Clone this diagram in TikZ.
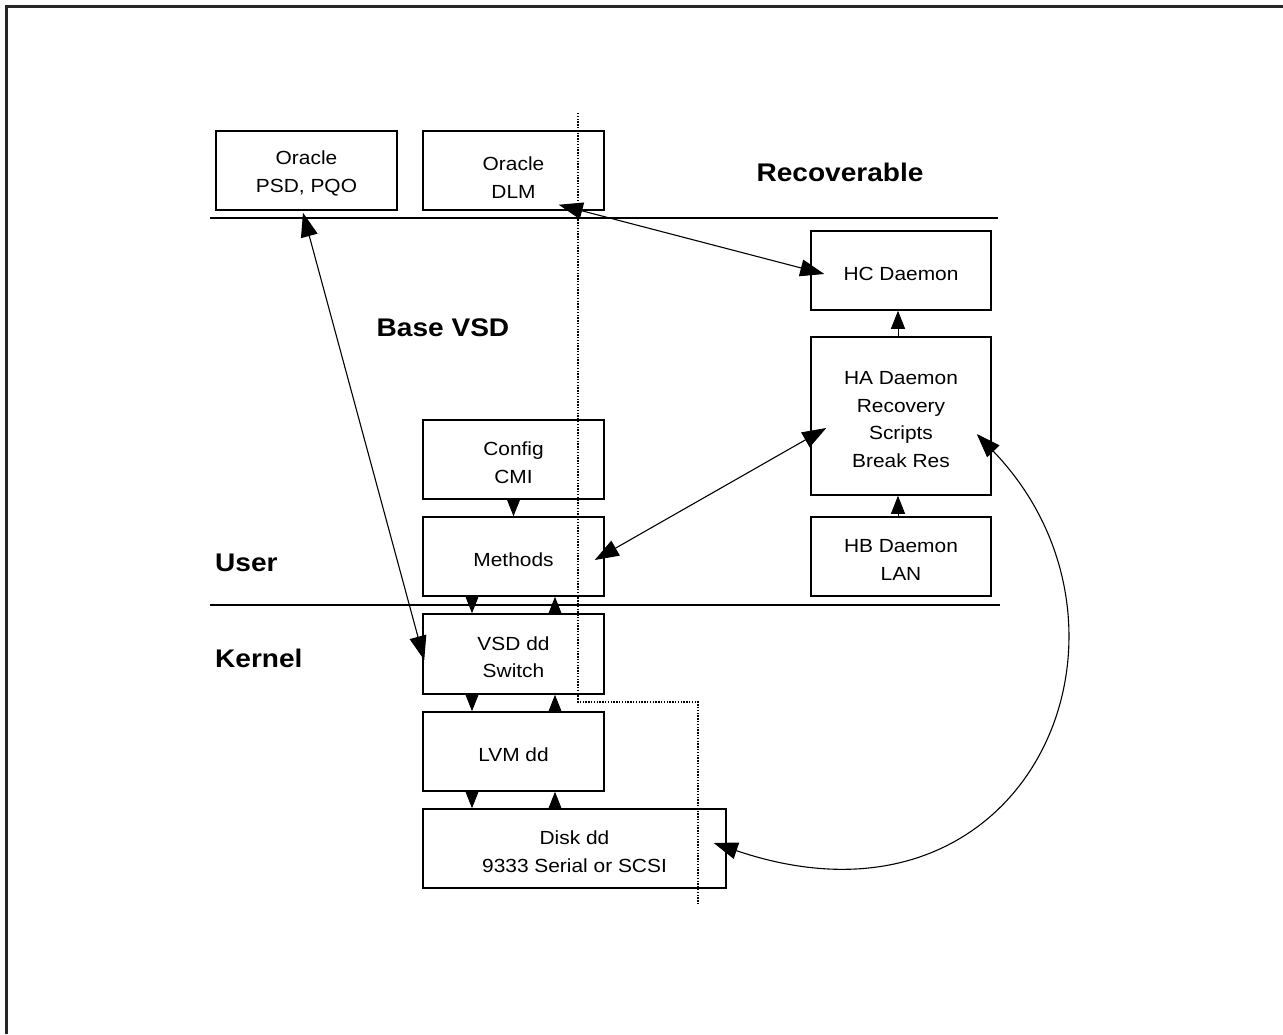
\documentclass[tikz,border=0pt]{standalone}
\usepackage{fontspec}
\setmainfont{Liberation Sans}[FakeStretch=1.1]
\usetikzlibrary{arrows.meta}
\newcommand{\boxfont}{\fontsize{19}{27.5}\selectfont}
\newcommand{\tagfont}{\fontsize{25.5}{30}\selectfont\bfseries}
\tikzset{
  unitbox/.style={draw, line width=1.5pt, inner sep=0pt, align=center,
    minimum width=181pt, minimum height=79pt, font=\boxfont},
  tagtext/.style={inner sep=0pt, font=\tagfont},
  divider/.style={line width=1.5pt},
  zone/.style={line width=1.4pt, dash pattern=on 1.4pt off 1.4pt},
  feed/.style={line width=1pt, -{Triangle[length=18pt,width=14pt]}},
  link/.style={line width=1.1pt, {Triangle[length=24pt,width=17pt]}-{Triangle[length=24pt,width=17pt]}},
}
\begin{document}
\begin{tikzpicture}[x=1pt, y=-1pt]
\useasboundingbox (0,0) rectangle (1283,1034);
% page frame (top and left edges)
\draw[line width=2.5pt, black!85] (6.5,1034) -- (6.5,6.5) -- (1283,6.5);

% layer dividers
\draw[divider] (210,218) -- (998,218);
\draw[divider] (210,605) -- (1000,605);

% boundary of the recoverable region
\draw[zone] (578,113) -- (578,702) -- (698,702) -- (698,905);

% components
\node[unitbox] (psd)  at (306.5,170.5) {\rule{0pt}{20pt}Oracle\\PSD, PQO};
\node[unitbox] (dlm)  at (513.5,170.5) {\rule{0pt}{28pt}Oracle\\DLM};
\node[unitbox, minimum width=180pt] (hc) at (901,270.5) {\rule{0pt}{20pt}HC Daemon};
\node[unitbox, minimum width=180pt, minimum height=158pt] (ha) at (901,416) {\rule{0pt}{20pt}HA Daemon\\Recovery\\Scripts\\Break Res};
\node[unitbox, minimum width=180pt] (hb) at (901,556.5) {\rule{0pt}{20pt}HB Daemon\\LAN};
\node[unitbox] (cfg)  at (513.5,459.5) {\rule{0pt}{20pt}Config\\CMI};
\node[unitbox] (meth) at (513.5,556.5) {\rule{0pt}{20pt}Methods};
\node[unitbox, minimum height=80pt] (vsd) at (513.5,654) {\rule{0pt}{20pt}VSD dd\\Switch};
\node[unitbox] (lvm)  at (513.5,751.5) {\rule{0pt}{20pt}LVM dd};
\node[unitbox, minimum width=303pt] (disk) at (574.5,848.5) {\rule{0pt}{20pt}Disk dd\\9333 Serial or SCSI};

% region labels
\node[tagtext] (rec)  at (840,172) {Recoverable};
\node[tagtext] (base) at (443,328) {Base VSD};
\node[tagtext, anchor=west] (user) at (215,563) {User};
\node[tagtext, anchor=west] (kern) at (215,658) {Kernel};

% vertical call chain
\draw[feed] (cfg.south) -- (meth.north);
\draw[feed] ([xshift=-41.5pt]meth.south) -- ([xshift=-41.5pt]vsd.north);
\draw[feed] ([xshift=41.5pt]vsd.north) -- ([xshift=41.5pt]meth.south);
\draw[feed] ([xshift=-41.5pt]vsd.south) -- ([xshift=-41.5pt]lvm.north);
\draw[feed] ([xshift=41.5pt]lvm.north) -- ([xshift=41.5pt]vsd.south);
\draw[feed] ([xshift=-41.5pt]lvm.south) -- ([xshift=-41.5pt]lvm.south |- disk.north);
\draw[feed] ([xshift=41.5pt]lvm.south |- disk.north) -- ([xshift=41.5pt]lvm.south);
\draw[feed] ([xshift=-3pt]hb.north) -- ([xshift=-3pt]ha.south);
\draw[feed] ([xshift=-3pt]ha.north) -- ([xshift=-3pt]hc.south);

% cross-layer links
\draw[link] ([xshift=-3.5pt,yshift=-2pt]psd.south) -- ([xshift=2pt,yshift=-6pt]vsd.west);
\draw[link] ([xshift=-46pt,yshift=6pt]dlm.south east) -- ([xshift=14pt,yshift=-3.5pt]hc.west);
\draw[link] ([xshift=-10pt,yshift=-3.5pt]meth.east) -- ([xshift=16pt,yshift=-12pt]ha.west);
\draw[link] ([xshift=-13pt,yshift=5.5pt]disk.east)
  .. controls (1030,950) and (1165,630) .. ([xshift=-15pt,yshift=-18pt]ha.east);
\end{tikzpicture}
\end{document}
